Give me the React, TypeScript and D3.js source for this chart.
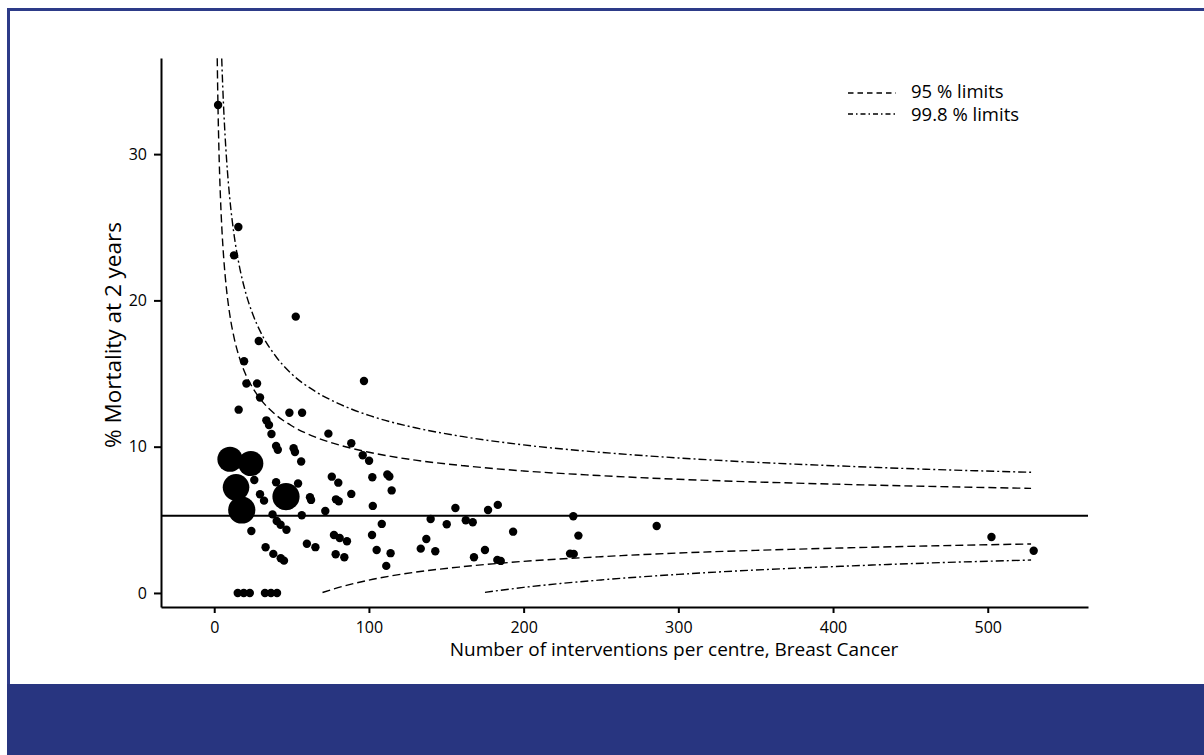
import React, { useEffect, useRef } from "react";
import * as d3 from "d3";

// centres (small markers): interventions per centre and % mortality at 2 years
const smallN = [
  2.5, 15.6, 12.8, 52.7, 28.8, 19.3, 20.8, 27.7, 29.6, 96.8,
  15.8, 48.6, 56.8, 33.7, 35.4, 37.0, 73.8, 88.6, 40.0, 41.1,
  51.3, 52.2, 96.0, 100.1, 56.2, 25.9, 40.0, 54.2, 76.0, 80.2,
  102.2, 111.9, 113.2, 114.7, 29.6, 32.2, 61.9, 62.6, 78.7, 80.5,
  88.6, 102.5, 71.8, 56.6, 37.7, 40.4, 42.9, 46.7, 24.0, 108.3,
  102.0, 77.4, 81.1, 85.8, 59.9, 65.4, 33.2, 38.2, 43.0, 45.1,
  78.5, 84.1, 105.0, 114.0, 111.2, 15.2, 19.1, 23.0, 32.8, 36.7,
  40.6, 155.9, 177.0, 183.3, 139.9, 150.3, 162.6, 167.1, 193.2, 232.1,
  235.4, 286.0, 137.1, 133.5, 142.9, 167.9, 175.0, 183.0, 185.2, 230.0,
  232.4, 502.4, 529.7,
];
const smallPct = [
  33.36, 25.02, 23.08, 18.89, 17.22, 15.84, 14.32, 14.32, 13.36, 14.49,
  12.53, 12.32, 12.32, 11.8, 11.48, 10.87, 10.89, 10.23, 10.05, 9.79,
  9.89, 9.64, 9.41, 9.04, 8.99, 7.72, 7.57, 7.48, 7.95, 7.54,
  7.91, 8.1, 7.96, 7.01, 6.75, 6.31, 6.54, 6.36, 6.4, 6.27,
  6.77, 5.95, 5.6, 5.31, 5.37, 4.92, 4.66, 4.32, 4.24, 4.72,
  3.96, 3.96, 3.76, 3.53, 3.36, 3.13, 3.12, 2.67, 2.37, 2.21,
  2.65, 2.44, 2.94, 2.72, 1.85, 0, 0, 0, 0, 0,
  0, 5.81, 5.67, 6.02, 5.06, 4.7, 4.97, 4.83, 4.19, 5.24,
  3.92, 4.58, 3.69, 3.03, 2.85, 2.44, 2.94, 2.26, 2.19, 2.69,
  2.67, 3.83, 2.89,
];

// centres drawn with large markers
const largeN = [10.2, 23.6, 14.1, 17.8, 46.4];
const largePct = [9.14, 8.85, 7.22, 5.67, 6.58];
const largeWeight = [9, 9, 10, 10.5, 10.5];

const target = 5.28;

// control limits
const upper95N = [1.95, 2.2, 2.5, 3, 3.5, 4, 5, 6, 8, 10, 13, 16, 20, 25, 30, 40, 50, 65, 80, 100, 130, 160, 200, 250, 300, 350, 400, 460, 528];
const upper95 = [36.55, 34.73, 32.9, 30.49, 28.61, 27.11, 24.8, 23.1, 20.7, 19.07, 17.37, 16.18, 15.02, 14.0, 13.23, 12.16, 11.43, 10.67, 10.14, 9.62, 9.08, 8.71, 8.34, 8.02, 7.77, 7.59, 7.44, 7.29, 7.15];
const upper998N = [4.85, 5, 5.5, 6, 7, 8, 10, 13, 16, 20, 25, 30, 40, 50, 65, 80, 100, 130, 160, 200, 250, 300, 350, 400, 460, 528];
const upper998 = [36.54, 36.07, 34.64, 33.38, 31.3, 29.61, 27.04, 24.36, 22.48, 20.66, 19.03, 17.83, 16.15, 14.98, 13.8, 12.96, 12.14, 11.29, 10.7, 10.12, 9.61, 9.23, 8.93, 8.7, 8.46, 8.25];
const lower95N = [70, 80, 100, 130, 160, 200, 250, 300, 350, 400, 460, 528];
const lower95 = [0.03, 0.36, 0.88, 1.42, 1.79, 2.16, 2.48, 2.73, 2.91, 3.06, 3.21, 3.35];
const lower998N = [175, 200, 250, 300, 350, 400, 460, 528];
const lower998 = [0.04, 0.38, 0.89, 1.27, 1.57, 1.8, 2.04, 2.25];

const xTicks = [0, 100, 200, 300, 400, 500];
const yTicks = [0, 10, 20, 30];
const legendLabels = ["95 % limits", "99.8 % limits"];

const DASH = "8,4";
const DOTDASH = "8,3,2,3";
const FONT = "'Open Sans', 'Noto Sans', sans-serif";

const App = () => {
  const svgRef = useRef<SVGSVGElement>(null);

  useEffect(() => {
    const svg = d3.select(svgRef.current);
    svg.selectAll("*").remove();

    // frame
    svg.append("rect").attr("width", 1204).attr("height", 755).attr("fill", "#fff");
    svg.append("rect").attr("x", 7).attr("y", 8).attr("width", 1197).attr("height", 3).attr("fill", "#2d3b88");
    svg.append("rect").attr("x", 7).attr("y", 8).attr("width", 3).attr("height", 680).attr("fill", "#2d3b88");
    svg.append("rect").attr("x", 7).attr("y", 684).attr("width", 1197).attr("height", 71).attr("fill", "#283580");

    const x = d3.scaleLinear().domain([-34.4, 564.8]).range([161, 1088]);
    const y = d3.scaleLinear().domain([-0.96, 36.57]).range([607, 58]);

    svg.append("clipPath").attr("id", "plotclip")
      .append("rect").attr("x", 161).attr("y", 58).attr("width", 927).attr("height", 549);

    const line = d3.line<[number, number]>()
      .x((d) => x(d[0]))
      .y((d) => y(d[1]))
      .curve(d3.curveMonotoneX);

    const curves = [
      { n: upper95N, v: upper95, dash: DASH },
      { n: lower95N, v: lower95, dash: DASH },
      { n: upper998N, v: upper998, dash: DOTDASH },
      { n: lower998N, v: lower998, dash: DOTDASH },
    ];

    const g = svg.append("g").attr("clip-path", "url(#plotclip)");
    curves.forEach((c) => {
      g.append("path")
        .datum(c.n.map((n, i) => [n, c.v[i]] as [number, number]))
        .attr("d", line)
        .attr("fill", "none")
        .attr("stroke", "#000")
        .attr("stroke-width", 1.4)
        .attr("stroke-dasharray", c.dash);
    });

    // target line
    svg.append("line")
      .attr("x1", x(-34.4)).attr("x2", x(564.8))
      .attr("y1", y(target)).attr("y2", y(target))
      .attr("stroke", "#000").attr("stroke-width", 2);

    svg.append("g")
      .selectAll("circle")
      .data(smallN.map((n, i) => ({ n, v: smallPct[i] })))
      .join("circle")
      .attr("cx", (d) => x(d.n))
      .attr("cy", (d) => y(d.v))
      .attr("r", 4.2)
      .attr("fill", "#000");

    const r = d3.scaleSqrt().domain([0, 1]).range([0, 4.2]);
    svg.append("g")
      .selectAll("circle")
      .data(largeN.map((n, i) => ({ n, v: largePct[i], w: largeWeight[i] })))
      .join("circle")
      .attr("cx", (d) => x(d.n))
      .attr("cy", (d) => y(d.v))
      .attr("r", (d) => r(d.w))
      .attr("fill", "#000");

    // axes
    const xAxis = d3.axisBottom(x).tickValues(xTicks).tickSize(6).tickSizeOuter(0).tickPadding(8.5);
    const yAxis = d3.axisLeft(y).tickValues(yTicks).tickSize(7).tickSizeOuter(0).tickPadding(7);

    const gx = svg.append("g").attr("transform", "translate(0,607)").call(xAxis);
    const gy = svg.append("g").attr("transform", "translate(161,0)").call(yAxis);
    [gx, gy].forEach((a) => {
      a.selectAll("path, line").attr("stroke", "#000").attr("stroke-width", 2);
      a.selectAll("text").attr("font-family", FONT).attr("font-size", 16).attr("fill", "#000");
    });

    svg.append("text")
      .attr("x", 674).attr("y", 656)
      .attr("text-anchor", "middle")
      .attr("font-family", FONT).attr("font-size", 19)
      .text("Number of interventions per centre, Breast Cancer");

    svg.append("text")
      .attr("transform", "translate(121,335) rotate(-90)")
      .attr("text-anchor", "middle")
      .attr("font-family", FONT).attr("font-size", 22.5)
      .text("% Mortality at 2 years");

    // legend
    const legend = svg.append("g");
    [DASH, "5,3,1.5,3"].forEach((dash, i) => {
      legend.append("line")
        .attr("x1", 848).attr("x2", 896)
        .attr("y1", 93 + i * 21).attr("y2", 93 + i * 21)
        .attr("stroke", "#000").attr("stroke-width", 1.3)
        .attr("stroke-dasharray", i === 0 ? "5.5,4" : dash);
      legend.append("text")
        .attr("x", 911).attr("y", 98 + i * 23)
        .attr("font-family", FONT).attr("font-size", 18.5)
        .text(legendLabels[i]);
    });
  }, []);

  return (
    <svg
      ref={svgRef}
      width={1204}
      height={755}
      style={{ position: "absolute", left: 0, top: 0 }}
    />
  );
};

export default App;
